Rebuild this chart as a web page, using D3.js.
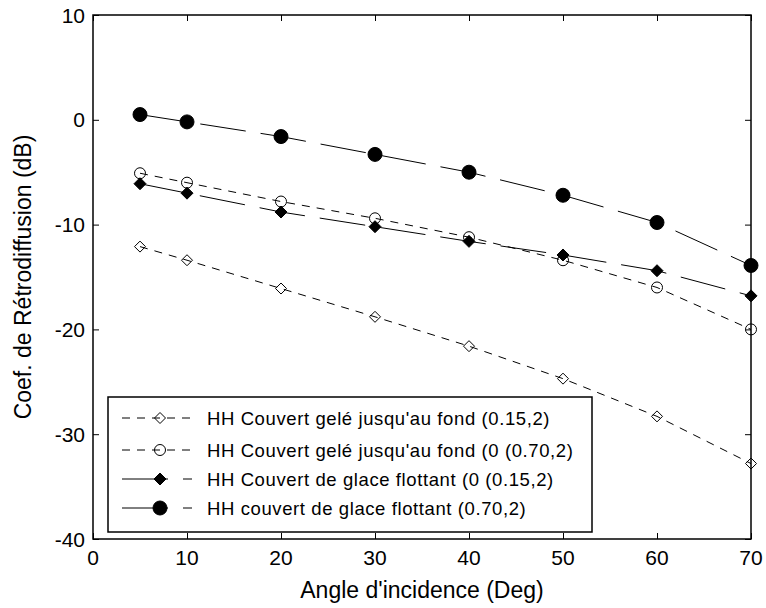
<!DOCTYPE html>
<html>
<head>
<meta charset="utf-8">
<script src="https://d3js.org/d3.v7.min.js"></script>
<style>
  body { margin: 0; background: #fff; }
  svg { font-family: "Liberation Sans", Arial, sans-serif; }
  .frame { fill: none; stroke: #000; stroke-width: 1.5; }
  .tick line { stroke: #000; stroke-width: 1; }
</style>
</head>
<body>
<script>

  // angles of incidence (deg)
  var angles = [5, 10, 20, 30, 40, 50, 60, 70];

  // backscatter values (dB) for each series
  var gelePt15 = [-12.1, -13.4, -16.1, -18.8, -21.6, -24.7, -28.3, -32.8];
  var gelePt70 = [-5.1, -6.0, -7.8, -9.4, -11.2, -13.4, -16.0, -20.0];
  var flottPt15 = [-6.1, -7.0, -8.8, -10.2, -11.6, -12.9, -14.4, -16.8];
  var flottPt70 = [0.5, -0.2, -1.6, -3.3, -5.0, -7.2, -9.8, -13.9];

  var labels = [
    "HH Couvert gelé jusqu'au fond (0.15,2)",
    "HH Couvert gelé jusqu'au fond (0 (0.70,2)",
    "HH Couvert de glace flottant (0 (0.15,2)",
    "HH couvert de glace flottant (0.70,2)"
  ];

  var xTicks = [0, 10, 20, 30, 40, 50, 60, 70];
  var yTicks = [-40, -30, -20, -10, 0, 10];

  var series = [
    {name: labels[0], values: gelePt15, dash: "8,7", marker: "diamond", filled: false, size: 5.5},
    {name: labels[1], values: gelePt70, dash: "8,7", marker: "circle", filled: false, size: 5.5},
    {name: labels[2], values: flottPt15, dash: "46,15", marker: "diamond", filled: true, size: 6},
    {name: labels[3], values: flottPt70, dash: "46,15", marker: "circle", filled: true, size: 7}
  ];

  var W = 766, H = 608;
  var L = 93, R = 751, T = 15, B = 539;

  var x = d3.scaleLinear().domain([0, 70]).range([L, R]);
  var y = d3.scaleLinear().domain([-40, 10]).range([B, T]);

  var svg = d3.select("body").append("svg")
      .attr("width", W)
      .attr("height", H);

  // ticks (inside, on all four sides)
  var tl = 6;
  svg.append("g").attr("transform", "translate(0," + B + ")")
      .call(d3.axisTop(x).tickValues(xTicks).tickSize(tl).tickFormat(""))
      .call(g => g.select(".domain").remove());
  svg.append("g").attr("transform", "translate(0," + T + ")")
      .call(d3.axisBottom(x).tickValues(xTicks).tickSize(tl).tickFormat(""))
      .call(g => g.select(".domain").remove());
  svg.append("g").attr("transform", "translate(" + L + ",0)")
      .call(d3.axisRight(y).tickValues(yTicks).tickSize(tl).tickFormat(""))
      .call(g => g.select(".domain").remove());
  svg.append("g").attr("transform", "translate(" + R + ",0)")
      .call(d3.axisLeft(y).tickValues(yTicks).tickSize(tl).tickFormat(""))
      .call(g => g.select(".domain").remove());

  // tick labels
  svg.append("g").selectAll("text")
      .data(xTicks)
    .enter().append("text")
      .attr("x", d => x(d))
      .attr("y", B + 26)
      .attr("text-anchor", "middle")
      .attr("font-size", "21px")
      .text(d => d);

  svg.append("g").selectAll("text")
      .data(yTicks)
    .enter().append("text")
      .attr("x", L - 8)
      .attr("y", d => y(d) + 7.5)
      .attr("text-anchor", "end")
      .attr("font-size", "21px")
      .text(d => d);

  // axis titles
  svg.append("text")
      .attr("x", (L + R) / 2)
      .attr("y", 598)
      .attr("text-anchor", "middle")
      .attr("font-size", "23px")
      .text("Angle d'incidence (Deg)");

  svg.append("text")
      .attr("transform", "translate(31," + ((T + B) / 2) + ") rotate(-90)")
      .attr("text-anchor", "middle")
      .attr("font-size", "23px")
      .text("Coef. de Rétrodiffusion (dB)");

  var line = d3.line()
      .x((d, i) => x(angles[i]))
      .y(d => y(d));

  function drawMarker(sel, s) {
    if (s.marker === "circle") {
      sel.append("circle").attr("r", s.size);
    } else {
      var r = s.size;
      sel.append("path").attr("d", "M0," + (-r) + "L" + r + ",0L0," + r + "L" + (-r) + ",0Z");
    }
    sel.selectAll("circle,path")
      .attr("fill", s.filled ? "#000" : "none")
      .attr("stroke", "#000")
      .attr("stroke-width", 1);
  }

  // lines and markers
  series.forEach(function(s) {
    svg.append("path")
        .datum(s.values)
        .attr("d", line)
        .attr("fill", "none")
        .attr("stroke", "#000")
        .attr("stroke-width", 1)
        .attr("stroke-dasharray", s.dash);

    svg.append("g").selectAll("g")
        .data(s.values)
      .enter().append("g")
        .attr("transform", (d, i) => "translate(" + x(angles[i]) + "," + y(d) + ")")
        .each(function() { drawMarker(d3.select(this), s); });
  });

  // frame
  svg.append("rect")
      .attr("class", "frame")
      .attr("x", L).attr("y", T)
      .attr("width", R - L).attr("height", B - T);

  // legend
  var lg = svg.append("g");
  lg.append("rect")
      .attr("x", 108).attr("y", 397)
      .attr("width", 484).attr("height", 135)
      .attr("fill", "#fff")
      .attr("stroke", "#000")
      .attr("stroke-width", 1.5);

  var rowY = [418, 450, 479, 508];
  series.forEach(function(s, i) {
    var row = lg.append("g").attr("transform", "translate(0," + rowY[i] + ")");
    row.append("line")
        .attr("x1", 122).attr("x2", 192)
        .attr("stroke", "#000")
        .attr("stroke-width", 1)
        .attr("stroke-dasharray", s.dash);
    var m = row.append("g").attr("transform", "translate(160,0)");
    drawMarker(m, s);
    row.append("text")
        .attr("x", 207)
        .attr("y", 6.5)
        .attr("font-size", "18.5px")
        .attr("letter-spacing", "0.6px")
        .text(s.name);
  });

</script>
</body>
</html>
